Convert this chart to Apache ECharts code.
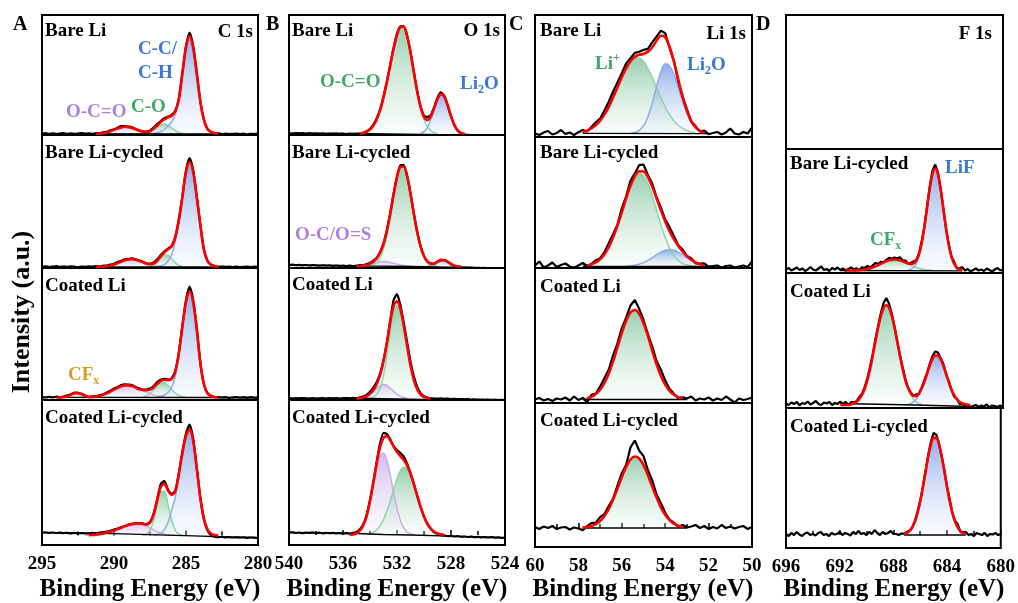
<!DOCTYPE html>
<html>
<head>
<meta charset="utf-8">
<script src="https://cdn.jsdelivr.net/npm/echarts@6/dist/echarts.min.js"></script>
<style>
html, body { margin: 0; padding: 0; background: #fff; }
#ec { width: 1018px; height: 603px; }
</style>
</head>
<body>
<div id="ec"></div>
<script>
// energy grids: [first value (eV), step]
var gridC1s = [295, 0.25];
var gridO1s = [540, 0.25];
var gridLi1s = [60, 0.2];
var gridF1s = [696, 0.2];

// ================= C 1s
// fitted components: from = first energy, values go down by the grid step
var A1_CC = { from: 287.25, y: [0.5,1.2,2.5,4.5,8,12,19,33,60,86,98,86,60,32,14,5,2,0.8,0.3] };
var A1_CO = { from: 288, y: [0.3,0.9,2.2,4.5,7.2,9.4,10,8.6,6.1,3.5,1.6,0.6,0.2] };
var A1_OCO = { from: 291.25, y: [0.2,0.4,0.8,1.6,2.7,4.1,5.5,6.6,7.2,6.9,6.0,4.7,3.2,2.0,1.1,0.5,0.2] };
// raw minus fit, on the whole grid
var A1_res = [0.3,0.8,0.2,0.6,0,0.5,0.9,0.2,0.6,0.1,0.5,0.8,0.3, 0.6,0.2,0.7,0.4,0.9,0.5,1,0.6,0.8,1.2,0.7,0.5, 0.8,0.3,0.6,0.2,0.5,0.8,1.2,1.5,1.0,1.2,0.8,1.0, 0.5,0.8,1.0,2.0,3.5,2.0,1.0,0.5,0,-0.5,0.3,0.2, 0.3,0,0.4,-0.2,0.2,0.5,0,0.3,-0.3,0.2,0,0.3];
var A1_bg = [[295,0.3],[283,0],[280,-0.8]];

var A2_CC = { from: 287, y: [0.5,1.2,2.5,6,12,25,45,69.4,94.8,105,94.8,69.4,41.6,17,6,2,0.7] };
var A2_CO = { from: 287.5, y: [0.6,2.1,5.1,9.2,12.2,11.8,8.4,4.4,1.7,0.5] };
var A2_OCO = { from: 291, y: [0.2,0.4,0.8,1.5,2.5,3.8,5.3,6.7,7.6,7.8,7.3,6.2,4.7,3.3,2.1,1.2,0.6,0.3] };
var A2_res = [0.2,0.6,0,0.4,0.8,0.1,0.5,0.2,0.7,0.3,0,0.5,0.2, 0.6,0.3,0.8,0.4,0.9,0.6,1.0,0.8,1.2,0.9,1.0,0.6, 0.8,0.5,0.3,0.6,0.4,0.8,1.2,1.6,1.2,1.0,0.6,0.8, 0.5,0.6,1.0,2.0,4.0,2.0,0.8,0.3,0,-0.3,0.2,0.4, 0.2,0.5,0.1,0.4,0,0.3,-0.2,0.2,0.5,0,0.3,0.1];
var A2_bg = [[295,0.2],[284,0],[280,-0.5]];

var A3_CC = { from: 287, y: [0.5,1.2,2.5,5,10,21,42,70,95,106,95,68,34,13,4,1.2,0.3] };
var A3_CO = { from: 288, y: [0.6,1.7,3.9,7.5,11.5,14.4,14.8,12.2,8.3,4.5,2.0,0.8,0.2] };
var A3_OCO = { from: 291.5, y: [0.5,1.0,1.6,2.7,4.1,5.9,7.8,9.6,11.2,12.1,12.1,11.4,10.0,8.2,7.0,5.5,4.0,2.6,1.6,0.9,0.4] };
var A3_CF = { from: 293.5, y: [0.4,1.2,2.7,4.2,4.4,3.1,1.5,0.5,0.1] };
var A3_res = [0.3,0,0.6,0.2,0.8,0.3,0.5,0.9,0.4,0.7,0.3,0.6,0.5, 0.2,0.6,0.3,0.8,0.5,1.0,0.8,1.2,0.9,1.3,1.0,0.8, 1.0,0.6,0.9,0.4,0.8,1.0,1.4,1.8,1.3,1.0,0.8,1.0, 0.6,0.8,1.2,2.5,5.0,2.5,1.0,0.3,-0.3,0.3,0.5,0.2, 0.4,0,0.3,-0.3,0.2,0.5,0,0.3,-0.2,0.4,0,0.2];
var A3_bg = [[295,0.2],[283,0],[280,-0.5]];

var A4_CC = { from: 287.25, y: [0.3,1,2.5,6,13,25,38.2,59.8,82.3,99.4,106,94.4,66.8,37.5,16.8,5.9,1.7,0.4] };
var A4_CO = { from: 288, y: [0.2,1.2,5.1,15,30.5,43.8,44.2,31.2,15.5,5.4,1.3,0.2] };
var A4_OCO = { from: 292, y: [0.2,0.4,0.6,0.9,1.4,2,2.9,3.9,5.1,6.4,7.8,9.2,10.4,11.3,11.9,12,11.3,9.7,7.7,5.6,3.7,2.3,1.3,0.7,0.3,0.1] };
var A4_res = [2.8,3.2,2.6,3.0,2.5,2.9,2.4,2.7,2.2,2.6,2.1,2.4,2.0, 1.8,2.0,1.5,1.6,1.2,1.0,0.8,0.9,0.5,0.6,0.3,0.5, 0.3,0.5,0.2,0.6,0.5,0.8,1.0,1.2,3.0,3.0,1.0,1.0, 1.0,1.2,1.5,2.5,5.0,2.5,0.5,-0.5,-1.0,-1.2,-1.3,-1.5, -1.6,-1.4,-1.8,-1.6,-2.0,-1.8,-2.1,-1.9,-2.3,-2.0,-2.2,-2.4];
var A4_bg = [[295,2.8],[290,1.8],[287,0.6],[284.5,-0.3],[282,-1.5],[280,-2.2]];

// ================= O 1s
var B1_OCO = { from: 534.75, y: [0.5,1.0,2.2,4.4,8.4,14.6,23.8,36.6,52,68.8,85.3,98.8,106.7,107.2,98,81.5,61.5,42,25.9,14.6,7.5,3.5,1.4,0.5] };
var B1_Li2O = { from: 530.25, y: [0.8,2.4,6.4,14,24.3,34.4,39.8,37.4,28.6,17.8,9,3.7,1.2,0.3] };
var B1_res = [0.8,0.5,1.0,0.6,0.9,0.4,0.8,0.5,0.7,0.3,0.6,0.2,0.5, 0.3,0.6,0.2,0.4,0,0.3,0.1,0.4,0,0.2,0.5,0.8, 1.0,1.2,0.8,1.0,0.5,0.8,1.2,1.5,1.0,0.5,0.2,0.6, 0.5,0.8,1.0,1.5,3.0,1.5,1.0,1.5,1.8,1.0,0.3,0, -0.3,-0.6,-0.8,-1.0,-0.8,-1.2,-1.4,-1.2,-1.6,-1.5,-1.8,-1.7,-2.0,-1.9,-2.2,-2.0];
var B1_bg = [[540,0.7],[534,0.3],[530,-0.3],[527,-1.2],[524,-2]];

var B2_OCO = { from: 534.25, y: [0.2,0.6,1.6,4,8.9,17.5,30.9,48.7,68.7,86.8,98,99.1,89.7,72.6,52.6,34.1,19.8,10.3,4.8,2.0,0.7,0.2] };
var B2_OCS = { from: 535, y: [0.2,0.5,0.9,1.5,2.3,3.2,4.1,4.8,5,4.8,4.1,3.2,2.3,1.5,0.9,0.5,0.2] };
var B2_Li2O = { from: 529.75, y: [0.2,0.9,2.3,4.4,6.1,6.3,4.8,2.7,1.1,0.3] };
var B2_res = [1.5,1.8,1.3,1.6,1.2,1.5,1.0,1.3,1.1,0.8,1.2,0.9,1.1, 0.7,1.0,0.6,0.9,0.5,0.8,0.4,0.6,0.8,0.5,0.7,0.9, 1.0,0.8,1.2,0.6,0.8,1.0,1.2,1.0,2.0,1.5,0.5,0.5, 0.2,0.4,0.6,0.3,0,0.3,-0.2,0.5,0.8,0.2,-0.3,-0.5, -0.8,-0.6,-1.0,-0.9,-1.2,-1.0,-1.4,-1.3,-1.5,-1.4,-1.7,-1.5,-1.8,-1.6,-1.9,-1.8];
var B2_bg = [[540,1.5],[535,0.6],[531,0],[527,-1],[524,-1.8]];

var B3_OCO = { from: 534, y: [0.4,1.3,4.1,10.6,23.2,42.6,65.8,85.3,93,87.2,71.8,52,33,18.4,9.1,3.9,1.5,0.5] };
var B3_OCS = { from: 534.75, y: [0.4,1.0,2.2,4.3,7.2,10.4,13,14,13,10.4,7.2,4.3,2.2,1.0,0.4] };
var B3_res = [0.3,0,0.4,0.1,0.5,0.2,0,0.3,-0.1,0.2,0.4,0,0.3, 0.1,0.4,0,0.3,0.5,0.2,0.6,0.4,0.8,1.0,1.5,2.0, 2.5,2.0,1.5,1.0,0.5,2.0,6.0,7.0,4.0,3.0,4.0,4.0, 3.5,2.5,1.5,0.8,0.5,0.2,0,-0.2,0.1,-0.3,-0.1,-0.5, -0.3,-0.7,-0.5,-0.8,-0.6,-1.0,-0.9,-1.2,-1.0,-1.3,-1.1,-1.4,-1.2,-1.5,-1.3,-1.5];
var B3_bg = [[540,0.2],[534,0],[530,-0.8],[524,-1.5]];

var B4_OCS = { from: 535.25, y: [0.6,1.7,4.3,9.6,18.9,32.6,49.8,66.7,78.7,81.8,74.8,60.2,42.6,26.6,14.6,7.1,3,1.1,0.4] };
var B4_OCO = { from: 534, y: [1.2,2.6,5.1,9.2,15.4,24.1,34.4,45.8,56.4,64.3,67.9,66.4,60,50.2,39,28,18.6,11.4,6.5,3.5,1.7,0.8,0.3] };
var B4_res = [2.3,2.8,2.0,2.5,1.8,2.4,2.1,2.6,1.9,2.3,1.7,2.2,1.8, 2.1,1.6,1.9,1.5,1.8,1.4,1.7,1.3,1.5,1.2,1.4,1.5, 1.0,2.0,4.0,5.0,2.0,1.0,0.5,2.0,3.0,3.5,2.0,1.0, 0.5,0.2,0,-0.3,-0.5,-0.2,-0.8,-0.5,-1.0,-0.8,-1.2,-1.0, -1.5,-1.2,-1.8,-1.5,-2.0,-1.7,-2.2,-1.9,-2.4,-2.1,-2.5,-2.2,-2.7,-2.4,-2.8,-2.6];
var B4_bg = [[540,2.3],[535,1.5],[533,0.5],[531,0],[528,-1.2],[524,-2.7]];

// ================= Li 1s
var C1_Li = { from: 58, y: [0.8,1.6,2.9,5.1,8.2,12.8,18.9,26.7,36,46.1,56.2,65.1,71.9,75.6,75.6,71.9,65.1,56.2,46.1,36,26.7,18.9,12.8,8.2,5.1,2.9,1.6,0.8] };
var C1_Li2O = { from: 55.6, y: [0.3,1,3.1,7.7,16.5,30,46.7,61.8,69.7,67.8,59.1,46,32,20,11.1,5.6,2.5,1,0.3] };
var C1_res = [0,-1.5,1,2.5,-1,0.5,3.5,-0.5,1,-1.5,0.5,2,-1,1.5,3,2,4,5,6,5,4,5,3,4,3,4,3,5,4,5,4,-1,1,-2,0,1.5,-1,1,-0.5,2,-1,0.5,1.5,-1,1,5,0,-1,1.5,0,6];
var C1_bg = [[57.8,0.2],[52,-0.2]];

var C2_Li = { from: 57.8, y: [0.5,1.0,2.1,4.1,7.3,12.3,19.4,29.2,40.9,54.1,67.9,80,88.9,93,91.1,83.4,71.1,56.5,41.7,28.7,18.4,11,6.1,3.2,1.5,0.7,0.3] };
var C2_Li2O = { from: 55.8, y: [0.3,0.6,1.2,2.3,3.9,6.1,8.9,11.8,14.4,16.3,17,16.3,14.4,11.8,8.9,6.1,3.9,2.3,1.2,0.6,0.3] };
var C2_res = [1,5,-1,1,4,-0.5,1.5,3,0,-1,1,3,-0.5,0.5,2,1,2,4,3,1,4,2,5,3,6,7,2,3,1,3,2,4,3,1,2,0,1.5,-1,0.5,2,-1,0,1,-1,0.5,1,-1,0,1,-0.5,5];
var C2_bg = [[57.8,0],[51.8,0]];

var C3_Li = { from: 57.8, y: [0.6,1.3,2.8,5.4,9.8,16.5,26,38.1,52.1,66.4,78.8,87,89.5,85.7,76.5,63.6,49.2,35.5,23.8,14.9,8.7,4.7,2.4,1.2,0.5] };
var C3_res = [0,1.5,-1,0.5,-1.5,1,0,2,-1,3,-0.5,1,-4,2,0.5,3,5,4,6,4,5,3,7,10,5,3,2,4,3,6,4,2,1,-1,1,0.5,3,-1,1,0,2,-1,1,-0.5,3,0,-3,1,-0.5,0.5,2];
var C3_bg = [[57.8,0],[53,0]];

var C4_Li = { from: 57.8, y: [0.4,0.9,1.9,3.8,6.9,11.9,19,28.4,39.3,50.8,61.1,68.5,71.5,69.5,62.9,53.1,41.6,30.5,20.7,13.2,7.8,4.3,2.2,1.1,0.5] };
var C4_res = [1,-1,1.5,0,2,-1,0.5,1,-1.5,0.5,-0.5,-2.5,1,3,1.5,4,2,3,1,3,4,2,12,16,8,9,5,6,3,4,2,0.5,1,-1,2,0,1.5,3,0,2,-1,1,-0.5,3,0,1.5,-0.5,1,2,-1,1];
var C4_bg = [[57.8,0],[53,0]];

// ================= F 1s
var D2_LiF = { from: 687, y: [0.4,1.1,3,6.7,13.8,25.4,41.9,61.9,81.6,96.5,102,96.5,81.6,61.9,41.9,25.4,13.8,6.7,3,1.1,0.4] };
var D2_CF = { from: 690.8, y: [0.2,0.4,0.6,1,1.5,2.2,3.1,4.1,5.4,6.7,8,9.2,10.2,10.8,11,10.8,10.2,9.2,8,6.7,5.4,4.1,3.1,2.2,1.5,1,0.6,0.4,0.2] };
var D2_res = [1,2.5,0,1.5,3,0.5,2,-0.5,1,3.5,1,0,2,4,0.5,1.5,-0.5,2.5,1,3,0.5, 2,0,1.5,3,1,2,0,2.5,1.5,3,1,2,3.5,1,2,0.5,1.5,2.5,1,2, 1.5,3,1,2,0,1,2,0.5,1,2,1,1.5,2,3,4,2,0,0.5,0,1, 0,2,-1,1,3,0,1.5,-1,0.5,2,0,1,-0.5,2,0.5,-1,1,2.5,0,1];
var D2_bg = [[692,0],[683,-0.3]];

var D3_CF = { from: 691.2, y: [0.8,1.7,3.2,5.9,10.1,16.3,24.9,36,49.2,63.6,77.5,89.3,97.2,100,97.2,89.3,77.5,63.6,49.2,36,24.9,16.3,10.1,5.9,3.2,1.7,0.8] };
var D3_LiF = { from: 687, y: [0.7,1.6,3.1,5.7,9.8,15.6,22.9,31.2,39.3,45.9,49.5,49.5,45.9,39.3,31.2,22.9,15.6,9.8,5.7,3.1,1.6,0.7] };
var D3_res = [1.5,0,2.5,1,3,-0.5,2,1,3.5,0.5,2,4,1,0,2.5,1.5,3,0,2,1,3.5, 1,3,0,2,1,0.5,2,1,1.5,2,2.5,2,3,2,3,5,7,4,2,1, 0,1,2,1,0.5,1,0,1.5,0,1,2,1,2,3,4,3,1,2,0,1, -0.5,-1.5,0.5,-2,-0.5,-1.5,0.5,-2.5,-1,0,-2,-0.5,-1.5,0.5,-2.5,-0.5,-1,-2,-0.5,-1.5];
var D3_bg = [[692,1.5],[686.5,0],[682.3,-1.5]];

var D4_LiF = { from: 687.2, y: [0.9,2.0,3.9,7.5,13.2,21.9,33.4,47.7,63.4,78.4,90.5,97.1,97.1,90.5,78.4,63.4,47.7,33.4,21.9,13.2,7.5,3.9,2.0,0.9] };
var D4_res = [1,-1,2,0,3,0.5,-1,1.5,2.5,0,1,-0.5,2,3,0,1,-1,2,0.5,1,3, 0,2,1,-0.5,3,1,4,1,2,0,3,1,5,2,0,3,1,2,4,1, 1,0,1.5,0.5,1,0.5,0,1,1.5,1,0.5,1,2,3,5,3,1,0.5,1.5,0.5, 2,0,1,3,-1,1,2,0,1,-1,2,1,0,2,-1,1,0.5,2,0,1];
var D4_bg = [[687.2,0],[682.6,0]];

// tick ranges
var xRanges = [[280, 295, 5], [524, 540, 4], [50, 60, 2], [680, 696, 4]];
var sampleNames = ['Bare Li', 'Bare Li-cycled', 'Coated Li', 'Coated Li-cycled'];
var coreLevels = ['C 1s', 'O 1s', 'Li 1s', 'F 1s'];

// ---------------- layout
var FAM = '"Liberation Serif","Times New Roman",serif';
var cols = [
  { g: gridC1s, left: 42, width: 216, rows: [[15,135,134],[135,268,267],[268,400,397.5],[400,545,535.5]] },
  { g: gridO1s, left: 289, width: 216, rows: [[15,135,134],[135,268,266.5],[268,400,398.5],[400,545,535]] },
  { g: gridLi1s, left: 535, width: 217, rows: [[15,137,133.5],[137,268,266.5],[268,403,399.5],[403,547,528]] },
  { g: gridF1s, left: 786, width: 217, rows: [[15,149,147],[149,273,270.5],[273,408,405],[408,548,535]] }
];

// col, row, residual, fit range, components, background
var panels = [
  [0, 0, A1_res, [291.25, 282.75], [[A1_OCO,'purple'],[A1_CO,'green'],[A1_CC,'blue']], A1_bg],
  [0, 1, A2_res, [291.25, 282.75], [[A2_OCO,'purple'],[A2_CO,'green'],[A2_CC,'blue']], A2_bg],
  [0, 2, A3_res, [294, 282.75], [[A3_CF,'gold'],[A3_OCO,'purple'],[A3_CO,'green'],[A3_CC,'blue']], A3_bg],
  [0, 3, A4_res, [291.75, 282.75], [[A4_OCO,'purple'],[A4_CO,'green'],[A4_CC,'blue']], A4_bg],
  [1, 0, B1_res, [534.75, 527], [[B1_OCO,'green'],[B1_Li2O,'blue']], B1_bg],
  [1, 1, B2_res, [535, 527.25], [[B2_OCS,'purple'],[B2_OCO,'green'],[B2_Li2O,'blue']], B2_bg],
  [1, 2, B3_res, [535, 529.5], [[B3_OCS,'purple'],[B3_OCO,'green']], B3_bg],
  [1, 3, B4_res, [535.5, 528.5], [[B4_OCS,'purple'],[B4_OCO,'green']], B4_bg],
  [2, 0, C1_res, [57.8, 52.2], [[C1_Li,'green'],[C1_Li2O,'blue']], C1_bg],
  [2, 1, C2_res, [57.6, 52.2], [[C2_Li,'green'],[C2_Li2O,'blue']], C2_bg],
  [2, 2, C3_res, [57.6, 53.2], [[C3_Li,'green']], C3_bg],
  [2, 3, C4_res, [57.8, 53.2], [[C4_Li,'green']], C4_bg],
  [3, 1, D2_res, [691.6, 683], [[D2_CF,'green'],[D2_LiF,'blue']], D2_bg],
  [3, 2, D3_res, [692, 682.4], [[D3_CF,'green'],[D3_LiF,'blue']], D3_bg],
  [3, 3, D4_res, [687.2, 682.6], [[D4_LiF,'blue']], D4_bg]
];

var compStyle = {
  blue:   { line: '#8aaee8', top: 'rgba(60,110,215,0.8)', bot: 'rgba(225,235,252,0.3)' },
  green:  { line: '#8fd3a8', top: 'rgba(55,160,100,0.74)', bot: 'rgba(225,245,232,0.3)' },
  purple: { line: '#c9aaec', top: 'rgba(160,110,215,0.66)', bot: 'rgba(240,232,250,0.3)' },
  gold:   { line: '#d9bd6a', top: 'rgba(200,150,30,0.75)', bot: 'rgba(250,240,210,0.3)' }
};
var TXT = { blue: '#3a78d8', green: '#3caa62', purple: '#b07fe0', gold: '#d4a020' };

function gE(g, i) { return +(g[0] - i * g[1]).toFixed(2); }
function compAt(g, c, i) {
  var k = i - Math.round((g[0] - c.from) / g[1]);
  return (k >= 0 && k < c.y.length) ? c.y[k] : 0;
}

var grids = [], xAxes = [], yAxes = [], series = [];
cols.forEach(function (col, ci) {
  col.rows.forEach(function (r, ri) {
    var bottom = ri === 3;
    grids.push({ left: col.left, top: r[0], width: col.width, height: r[1] - r[0],
      show: true, borderColor: '#000', borderWidth: 2, backgroundColor: 'transparent' });
    xAxes.push({ type: 'value', gridIndex: grids.length - 1, inverse: true,
      min: xRanges[ci][0], max: xRanges[ci][1], interval: xRanges[ci][2],
      axisLine: { show: false }, splitLine: { show: false },
      axisTick: { show: bottom, inside: true, length: 5, lineStyle: { color: '#000', width: 1.5 } },
      minorTick: { show: bottom, splitNumber: 2, length: 4, lineStyle: { color: '#000', width: 1.5 } },
      axisLabel: { show: bottom, margin: 10, color: '#000', fontFamily: FAM, fontWeight: 'bold', fontSize: 19 } });
    yAxes.push({ type: 'value', gridIndex: grids.length - 1, show: false,
      min: -(r[1] - r[2]), max: r[2] - r[0], splitLine: { show: false } });
  });
});

panels.forEach(function (p) {
  var col = cols[p[0]], g = col.g, gi = p[0] * 4 + p[1], comps = p[4];
  comps.forEach(function (cc) {
    var c = cc[0], st = compStyle[cc[1]];
    series.push({ type: 'line', xAxisIndex: gi, yAxisIndex: gi, symbol: 'none', smooth: 0.35, z: 2, silent: true,
      lineStyle: { color: st.line, width: 1.5 },
      areaStyle: { color: new echarts.graphic.LinearGradient(0, 0, 0, 1, [{ offset: 0, color: st.top }, { offset: 1, color: st.bot }]) },
      data: c.y.map(function (v, k) { return [+(c.from - k * g[1]).toFixed(2), v]; }) });
  });
  series.push({ type: 'line', xAxisIndex: gi, yAxisIndex: gi, symbol: 'none', z: 3, silent: true,
    lineStyle: { color: '#000', width: 1.3 }, data: p[5] });
  var raw = [], fit = [];
  p[2].forEach(function (res, i) {
    var e = gE(g, i), s = 0;
    comps.forEach(function (cc) { s += compAt(g, cc[0], i); });
    raw.push([e, s + res]);
    if (e <= p[3][0] + 1e-6 && e >= p[3][1] - 1e-6) fit.push([e, s]);
  });
  var smoothRaw = p[0] < 2 ? 0.2 : false;
  series.push({ type: 'line', xAxisIndex: gi, yAxisIndex: gi, symbol: 'none', smooth: smoothRaw, z: 4, silent: true,
    lineStyle: { color: '#000', width: 2.2 }, data: raw });
  series.push({ type: 'line', xAxisIndex: gi, yAxisIndex: gi, symbol: 'none', smooth: 0.35, z: 5, silent: true,
    lineStyle: { color: '#ff0000', width: 2.6 }, data: fit });
});

// ---------------- texts
var graphics = [];
var mctx = document.createElement('canvas').getContext('2d');
function bold(sz) { return 'bold ' + sz + 'px ' + FAM; }
function label(x, y, parts, color, size, align) {
  size = size || 19;
  var w = 0;
  parts.forEach(function (pt) {
    mctx.font = bold(pt[1] ? 12 : size);
    w += mctx.measureText(pt[0]).width;
  });
  if (align === 'right') x -= w;
  parts.forEach(function (pt) {
    var s = pt[1] ? 12 : size;
    var dy = pt[1] === 'sub' ? 6 : (pt[1] === 'sup' ? -6 : 0);
    graphics.push({ type: 'text', x: x, y: y + dy, silent: true,
      style: { text: pt[0], font: bold(s), fill: color, align: 'left', verticalAlign: 'middle' } });
    mctx.font = bold(s);
    x += mctx.measureText(pt[0]).width;
  });
}

// sample names
var nameX = [45, 292, 540, 790];
var nameY = [[31, 153, 286, 418], [31, 153, 285, 418], [31, 153, 287, 421], [null, 164, 292, 427]];
nameX.forEach(function (x, ci) {
  sampleNames.forEach(function (s, ri) {
    if (nameY[ci][ri] !== null) label(x, nameY[ci][ri], [[s]], '#000');
  });
});
// core levels
label(253, 32, [[coreLevels[0]]], '#000', 19, 'right');
label(500, 31, [[coreLevels[1]]], '#000', 19, 'right');
label(746, 34, [[coreLevels[2]]], '#000', 19, 'right');
label(992, 34, [[coreLevels[3]]], '#000', 19, 'right');
// species
label(138, 49, [['C-C/']], TXT.blue);
label(138, 73, [['C-H']], TXT.blue);
label(131, 107, [['C-O']], TXT.green);
label(66, 112, [['O-C=O']], TXT.purple);
label(68, 375, [['CF'], ['x', 'sub']], TXT.gold);
label(320, 82, [['O-C=O']], TXT.green);
label(460, 84, [['Li'], ['2', 'sub'], ['O']], TXT.blue);
label(295, 235, [['O-C/O=S']], TXT.purple);
label(595, 64, [['Li'], ['+', 'sup']], TXT.green);
label(687, 65, [['Li'], ['2', 'sub'], ['O']], TXT.blue);
label(945, 168, [['LiF']], TXT.blue);
label(870, 240, [['CF'], ['x', 'sub']], TXT.green);
// panel letters
label(13, 25, [['A']], '#000', 20);
label(266, 25, [['B']], '#000', 20);
label(509, 25, [['C']], '#000', 20);
label(756, 25, [['D']], '#000', 20);
// axis titles
[150, 397, 643, 894].forEach(function (cx) {
  graphics.push({ type: 'text', x: cx, y: 590, silent: true,
    style: { text: 'Binding Energy (eV)', font: bold(25), fill: '#000', align: 'center', verticalAlign: 'middle' } });
});
graphics.push({ type: 'text', x: 22, y: 312, rotation: Math.PI / 2, silent: true,
  style: { text: 'Intensity (a.u.)', font: bold(26), fill: '#000', align: 'center', verticalAlign: 'middle' } });

var chart = echarts.init(document.getElementById('ec'));
chart.setOption({
  animation: false,
  backgroundColor: '#fff',
  grid: grids,
  xAxis: xAxes,
  yAxis: yAxes,
  series: series,
  graphic: graphics
});
</script>
</body>
</html>
